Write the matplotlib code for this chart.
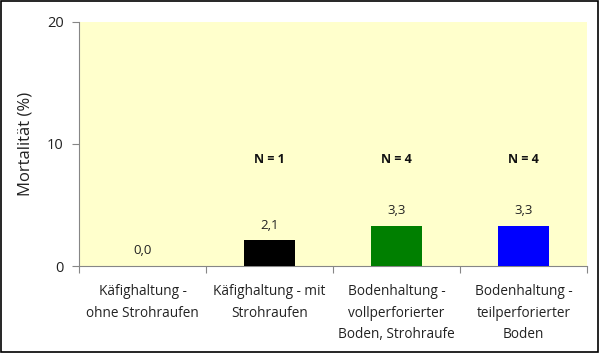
import numpy as np
import matplotlib.pyplot as plt
from matplotlib.patches import Rectangle

categories = ["Käfighaltung -\nohne Strohraufen",
              "Käfighaltung - mit\nStrohraufen",
              "Bodenhaltung -\nvollperforierter\nBoden, Strohraufe",
              "Bodenhaltung -\nteilperforierter\nBoden"]
values = [0.0, 2.1, 3.3, 3.3]
value_labels = ["0,0", "2,1", "3,3", "3,3"]
n_labels = ["", "N = 1", "N = 4", "N = 4"]
colors = ["#FFFFCC", "#000000", "#007F00", "#0000FF"]

plt.rcParams['font.family'] = ['Open Sans', 'DejaVu Sans']

fig = plt.figure(figsize=(6, 3.53), dpi=100)
ax = fig.add_axes([79/600, 1 - 266/353, 508/600, 244/353])
ax.set_facecolor("#FFFFCC")

x = np.arange(len(categories))
ax.bar(x, values, width=0.4, color=colors, zorder=3)

for xi, v, lab in zip(x, values, value_labels):
    ax.text(xi, v + 0.7, lab, ha="center", va="bottom", fontsize=9.5, color="#222222")
for xi, lab in zip(x, n_labels):
    if lab:
        ax.text(xi, 8.7, lab, ha="center", va="center", fontsize=9, fontweight="bold", color="#111111")

ax.set_xlim(-0.5, len(categories) - 0.5)
ax.set_ylim(0, 20)
ax.set_yticks([0, 10, 20])
ax.set_xticks(np.arange(len(categories) + 1) - 0.5)
ax.set_xticklabels([])
ax.set_xticks(x, minor=True)
ax.set_xticklabels(categories, minor=True, fontsize=9.8, color="#222222", linespacing=1.6)
ax.tick_params(axis="x", which="minor", length=0, pad=13)
ax.tick_params(axis="x", which="major", length=5, color="#868686", direction="out")
ax.tick_params(axis="y", length=5, color="#868686", labelsize=10.5, labelcolor="#222222", pad=6)

for s in ["top", "right"]:
    ax.spines[s].set_visible(False)
for s in ["left", "bottom"]:
    ax.spines[s].set_color("#868686")

ax.set_ylabel("Mortalität (%)", fontsize=12, color="#222222", labelpad=10)

fig.patches.append(Rectangle((0.002, 0.003), 0.995, 0.994, transform=fig.transFigure,
                             fill=False, edgecolor="black", linewidth=1.2))

fig.savefig("out.png", dpi=100)
